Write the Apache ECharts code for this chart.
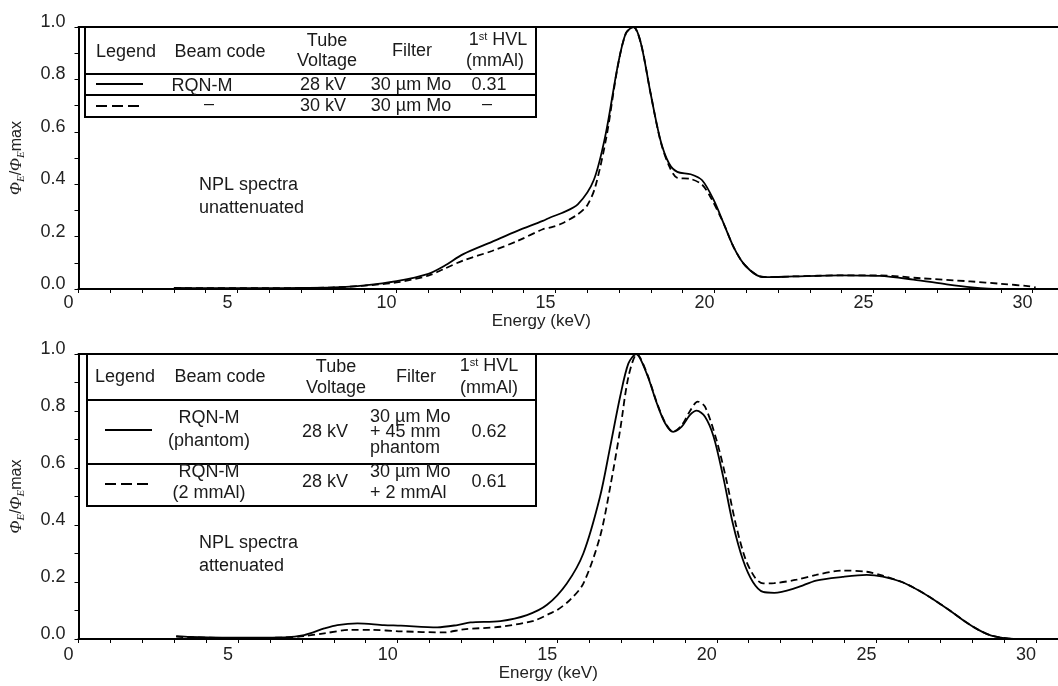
<!DOCTYPE html>
<html><head><meta charset="utf-8">
<script src="https://cdn.jsdelivr.net/npm/echarts@6/dist/echarts.min.js"></script>
<style>html,body{margin:0;padding:0;background:#fff}#c{width:1058px;height:686px}</style>
</head><body><div id="c"></div><script>
// ---------- data ----------
const xLabelValues = [0, 5, 10, 15, 20, 25, 30];
const xTickValues = [0,1,2,3,4,5,6,7,8,9,10,11,12,13,14,15,16,17,18,19,20,21,22,23,24,25,26,27,28,29,30];
const yLabelValues = [0, 0.2, 0.4, 0.6, 0.8, 1.0];
const yTickValues = [0, 0.1, 0.2, 0.3, 0.4, 0.5, 0.6, 0.7, 0.8, 0.9, 1.0];

// Top panel: unattenuated spectra [energy keV, Phi_E/Phi_E max]
const topSolid28kV = [
  [3.0,0.004],[4,0.003],[5,0.003],[6,0.003],[7,0.004],[8,0.006],[9,0.014],[10,0.03],
  [11,0.058],[11.5,0.088],[12.1,0.133],[13,0.18],[13.8,0.222],[14.6,0.26],[14.85,0.274],
  [15.2,0.29],[15.7,0.323],[16.2,0.415],[16.58,0.593],[16.95,0.848],[17.21,0.976],
  [17.45,1.0],[17.68,0.94],[17.99,0.746],[18.3,0.568],[18.57,0.479],[18.83,0.447],
  [19.25,0.438],[19.61,0.415],[19.98,0.338],[20.29,0.249],[20.6,0.16],[20.92,0.096],
  [21.34,0.052],[21.65,0.045],[22.5,0.048],[23.96,0.052],[25.2,0.05],[26.25,0.036],
  [27.3,0.018],[28.1,0.006],[28.6,0.001],[29.0,0.0]
];
const topDashed30kV = [
  [3.0,0.004],[4,0.003],[5,0.003],[6,0.003],[7,0.004],[8,0.006],[9,0.013],[10,0.025],
  [11,0.051],[11.5,0.077],[12.1,0.109],[13,0.145],[13.8,0.183],[14.6,0.228],[14.85,0.235],
  [15.2,0.25],[15.7,0.285],[16.0,0.32],[16.25,0.39],[16.6,0.58],[16.95,0.845],[17.21,0.975],
  [17.45,1.0],[17.68,0.94],[17.99,0.746],[18.3,0.565],[18.57,0.47],[18.83,0.424],
  [19.25,0.42],[19.61,0.398],[19.9,0.345],[20.29,0.249],[20.6,0.16],[20.92,0.096],
  [21.34,0.052],[21.65,0.045],[22.5,0.048],[23.96,0.052],[25.2,0.052],[26.47,0.041],
  [28.04,0.029],[29.0,0.02],[29.92,0.01],[30.1,0.006]
];

// Bottom panel: attenuated spectra
const botSolidPhantom = [
  [3.06,0.01],[3.5,0.007],[4.5,0.005],[5.5,0.005],[6.45,0.006],[7.07,0.014],[7.7,0.037],
  [8.11,0.049],[8.74,0.055],[9.57,0.049],[10.1,0.047],[11.24,0.041],[11.87,0.049],
  [12.28,0.058],[13.22,0.063],[14.05,0.084],[14.68,0.12],[15.3,0.195],[15.82,0.301],
  [16.34,0.499],[16.66,0.675],[16.97,0.85],[17.23,0.967],[17.47,1.0],[17.8,0.932],
  [18.12,0.827],[18.38,0.757],[18.63,0.727],[18.9,0.745],[19.16,0.786],[19.37,0.801],
  [19.63,0.78],[19.9,0.71],[20.2,0.569],[20.5,0.406],[20.82,0.277],[21.13,0.2],
  [21.45,0.165],[21.8,0.162],[22.5,0.18],[23.11,0.205],[23.94,0.218],[24.7,0.225],
  [25.2,0.219],[25.8,0.2],[26.3,0.172],[26.8,0.138],[27.3,0.1],[27.8,0.06],[28.2,0.032],
  [28.6,0.012],[29.1,0.002],[29.6,0.0]
];
const botDashed2mmAl = [
  [3.06,0.008],[3.5,0.006],[4.5,0.004],[5.5,0.004],[6.45,0.005],[7.07,0.01],[7.7,0.02],
  [8.53,0.032],[9.16,0.032],[10.1,0.027],[11.45,0.023],[12.07,0.034],[13.22,0.043],
  [14.26,0.064],[14.78,0.09],[15.0,0.102],[15.4,0.137],[15.82,0.195],[16.34,0.359],
  [16.66,0.534],[16.97,0.733],[17.23,0.92],[17.5,1.0],[17.8,0.935],[18.12,0.83],
  [18.38,0.76],[18.63,0.727],[18.9,0.75],[19.16,0.8],[19.4,0.833],[19.63,0.815],
  [19.99,0.698],[20.3,0.558],[20.6,0.4],[20.9,0.28],[21.2,0.215],[21.45,0.195],
  [21.8,0.196],[22.5,0.208],[23.11,0.225],[23.94,0.24],[24.7,0.236],[25.2,0.222],
  [25.8,0.2],[26.3,0.172],[26.8,0.138],[27.3,0.1],[27.8,0.06],[28.2,0.032],
  [28.6,0.012],[29.1,0.002],[29.6,0.0]
];

// ---------- chart ----------
const FONT = '"Liberation Sans", Arial, sans-serif';
const SERIF = '"Liberation Serif", "DejaVu Serif", serif';
const chart = echarts.init(document.getElementById('c'));

function bottomXAxis(grid, max, margin, nameGap, namePadRight) {
  return {
    gridIndex: grid, type: 'value', min: 0, max: max, position: 'bottom',
    axisLine: { show: true, onZero: false, lineStyle: { color: '#000', width: 2 } },
    axisTick: { show: true, customValues: xTickValues, length: 4, lineStyle: { color: '#000', width: 1 } },
    axisLabel: { customValues: xLabelValues, margin: margin, color: '#222', fontSize: 18, fontFamily: FONT, padding: [0, 20, 0, 0] },
    splitLine: { show: false },
    name: 'Energy (keV)', nameLocation: 'middle', nameGap: nameGap,
    nameTextStyle: { color: '#222', fontSize: 17, fontFamily: FONT, padding: [0, namePadRight, 0, 0] }
  };
}
function topXAxis(grid, max) {
  return {
    gridIndex: grid, type: 'value', min: 0, max: max, position: 'top',
    axisLine: { show: true, onZero: false, lineStyle: { color: '#000', width: 2 } },
    axisTick: { show: false }, axisLabel: { show: false }, splitLine: { show: false }
  };
}
function yAx(grid) {
  return {
    gridIndex: grid, type: 'value', min: 0, max: 1,
    axisLine: { show: true, onZero: false, lineStyle: { color: '#000', width: 2 } },
    axisTick: { show: true, customValues: yTickValues, length: 4, lineStyle: { color: '#000', width: 1 } },
    axisLabel: { customValues: yLabelValues, formatter: v => v.toFixed(1), margin: 13, color: '#222',
                 fontSize: 18, fontFamily: FONT, verticalAlign: 'bottom', lineHeight: 10 },
    splitLine: { show: false },
    name: '{p|Φ}{s|E}{n|/}{p|Φ}{s|E}{n|max}', nameLocation: 'middle', nameRotate: 90, nameGap: 52,
    nameTextStyle: {
      color: '#222',
      rich: {
        p: { fontFamily: SERIF, fontStyle: 'italic', fontSize: 17, lineHeight: 20, color: '#222' },
        s: { fontFamily: SERIF, fontStyle: 'italic', fontSize: 11, lineHeight: 20, verticalAlign: 'bottom', color: '#222' },
        n: { fontFamily: FONT, fontSize: 16, lineHeight: 20, color: '#222' }
      }
    }
  };
}
function line(data, xi, yi, dashed) {
  return {
    type: 'line', data: data, xAxisIndex: xi, yAxisIndex: yi, smooth: 0.3,
    showSymbol: false, symbol: 'none', silent: true, clip: true,
    lineStyle: { color: '#000', width: 1.8, type: dashed ? [7, 4] : 'solid' }
  };
}

// table helpers (layout only)
function txt(x, y, s, align, extra) {
  return { type: 'text', x: x, y: y, z: 20,
    style: Object.assign({ text: s, fill: '#1a1a1a', fontSize: 18, fontFamily: FONT,
      textAlign: align || 'center', textVerticalAlign: 'middle' }, extra || {}) };
}
function hvl(x, y) {
  return txt(x, y, '1{sup|st} HVL', 'center', { rich: { sup: { fontSize: 11, fontFamily: FONT, verticalAlign: 'top', fill: '#1a1a1a' } } });
}
function ln(x1, y1, x2, y2, dash, w) {
  return { type: 'line', z: 20, shape: { x1: x1, y1: y1, x2: x2, y2: y2 },
    style: { stroke: '#000', lineWidth: w || 2, lineDash: dash || null } };
}
function box(x, y, w, h) {
  return { type: 'rect', z: 19, shape: { x: x, y: y, width: w, height: h },
    style: { fill: '#fff', stroke: '#000', lineWidth: 2 } };
}

const graphics = [
  // top table
  box(85, 27, 451, 90),
  ln(85, 74, 536, 74), ln(85, 95, 536, 95),
  txt(126, 52, 'Legend'), txt(220, 52, 'Beam code'),
  txt(327, 41, 'Tube'), txt(327, 61, 'Voltage'),
  txt(412, 51, 'Filter'),
  hvl(498, 40), txt(495, 61, '(mmAl)'),
  ln(96, 84, 143, 84, null, 1.8), txt(202, 86, 'RQN-M'), txt(323, 85, '28 kV'), txt(411, 85, '30 µm Mo'), txt(489, 85, '0.31'),
  ln(96, 106, 143, 106, [11, 5], 1.8), txt(209, 104, '–'), txt(323, 106, '30 kV'), txt(411, 106, '30 µm Mo'), txt(487, 104, '–'),
  txt(199, 185, 'NPL spectra', 'left'), txt(199, 208, 'unattenuated', 'left'),
  // bottom table
  box(87, 354, 449, 152),
  ln(87, 400, 536, 400), ln(87, 464, 536, 464),
  txt(125, 377, 'Legend'), txt(220, 377, 'Beam code'),
  txt(336, 367, 'Tube'), txt(336, 388, 'Voltage'),
  txt(416, 377, 'Filter'),
  hvl(489, 366), txt(489, 388, '(mmAl)'),
  ln(105, 430, 152, 430, null, 1.8),
  txt(209, 418, 'RQN-M'), txt(209, 441, '(phantom)'), txt(325, 432, '28 kV'),
  txt(370, 417, '30 µm Mo', 'left'), txt(370, 432, '+ 45 mm', 'left'), txt(370, 448, 'phantom', 'left'),
  txt(489, 432, '0.62'),
  ln(105, 484, 152, 484, [11, 5], 1.8),
  txt(209, 472, 'RQN-M'), txt(209, 493, '(2 mmAl)'), txt(325, 482, '28 kV'),
  txt(370, 472, '30 µm Mo', 'left'), txt(370, 493, '+ 2 mmAl', 'left'),
  txt(489, 482, '0.61'),
  txt(199, 543, 'NPL spectra', 'left'), txt(199, 566, 'attenuated', 'left')
];

chart.setOption({
  animation: false,
  backgroundColor: '#fff',
  textStyle: { fontFamily: FONT },
  grid: [
    { left: 77, top: 27, width: 981, height: 262 },
    { left: 77, top: 354, width: 982, height: 285 }
  ],
  xAxis: [
    bottomXAxis(0, 30.8, 5, 17, 54),
    topXAxis(0, 30.8),
    bottomXAxis(1, 30.69, 7, 24, 40),
    topXAxis(1, 30.69)
  ],
  yAxis: [yAx(0), yAx(1)],
  series: [
    line(topSolid28kV, 0, 0, false),
    line(topDashed30kV, 0, 0, true),
    line(botSolidPhantom, 2, 1, false),
    line(botDashed2mmAl, 2, 1, true)
  ],
  graphic: { elements: graphics }
});
</script></body></html>
